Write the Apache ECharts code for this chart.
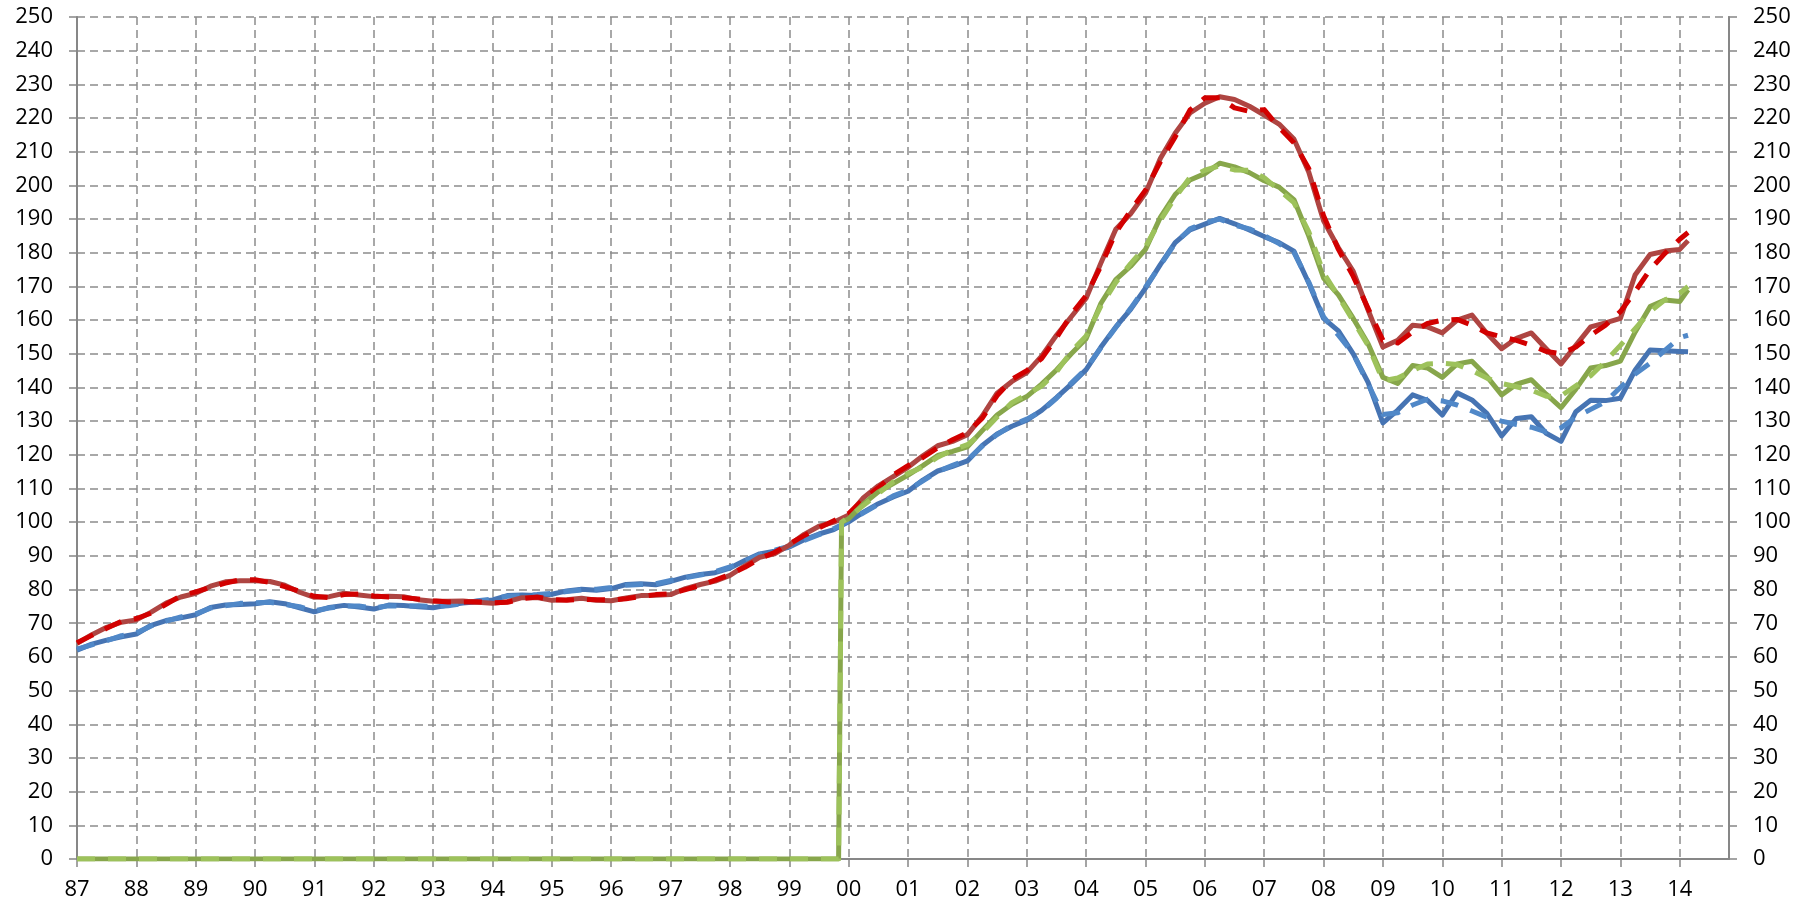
<!DOCTYPE html>
<html>
<head>
<meta charset="utf-8">
<script src="https://cdn.jsdelivr.net/npm/echarts@6/dist/echarts.min.js"></script>
<style>
html,body{margin:0;padding:0;background:#fff;}
#chart{width:1814px;height:908px;}
</style>
</head>
<body>
<div id="chart"></div>
<script>
// ---- time positions (decimal years, quarterly; last = latest monthly obs) ----
const times = [];
for (let i = 0; i <= 108; i++) times.push(1987 + i * 0.25);
times.push(2014.14);

// ---- axis ranges / tick steps ----
const yMin = 0, yMax = 250, yStep = 10;
const xMin = 1987, xMax = 2014.83;

// ---- red (solid / dashed) ----
const redSolid = [
  64.0, 66.6, 68.8, 70.3,
  71.0, 73.3, 76.0, 77.8,
  78.9, 81.0, 82.3, 82.6,
  82.6, 82.4, 81.3, 79.2,
  77.7, 77.9, 78.9, 78.4,
  77.9, 78.0, 77.9, 77.0,
  76.5, 76.5, 76.6, 76.2,
  75.9, 76.4, 77.6, 77.6,
  76.8, 77.0, 77.4, 76.8,
  76.7, 77.5, 78.2, 78.3,
  78.5, 80.3, 81.5, 82.5,
  84.2, 87.0, 89.6, 90.6,
  93.2, 96.4, 98.8, 100.0,
  102.1, 107.3, 110.8, 113.5,
  116.3, 119.7, 122.7, 124.0,
  126.0, 131.5, 138.3, 141.8,
  144.4, 149.3, 155.5, 161.0,
  166.5, 177.0, 187.0, 191.6,
  197.7, 208.0, 215.5, 221.5,
  224.4, 226.3, 225.5, 223.5,
  220.9, 218.2, 213.8, 204.0,
  189.5, 181.5, 174.5, 163.0,
  152.0, 154.0, 158.5, 158.0,
  156.2, 160.0, 161.5, 156.1,
  151.5, 154.6, 156.2, 151.5,
  147.0, 152.5, 158.0, 159.2,
  160.5, 173.5, 179.5, 180.5,
  181.0, 183.6
];
const redDashed = [
  64.2, 66.4, 68.5, 70.6,
  71.4, 73.0, 75.6, 78.2,
  79.3, 80.7, 81.9, 82.9,
  82.9, 82.1, 80.9, 79.5,
  78.0, 77.6, 78.5, 78.7,
  78.1, 77.8, 77.6, 77.2,
  76.7, 76.3, 76.3, 76.4,
  76.1, 76.2, 77.3, 77.8,
  77.0, 76.8, 77.1, 77.0,
  76.9, 77.3, 77.9, 78.5,
  78.7, 80.0, 81.2, 82.8,
  84.5, 86.6, 89.2, 91.0,
  93.6, 96.0, 98.3, 100.4,
  102.6, 106.8, 110.2, 114.0,
  116.8, 119.2, 122.1, 124.5,
  126.6, 130.9, 137.6, 142.4,
  145.0, 148.6, 154.7, 161.7,
  167.3, 176.1, 186.0, 192.5,
  198.6, 207.0, 214.4, 222.4,
  226.0, 226.0, 223.0, 222.0,
  222.5, 217.2, 212.7, 205.0,
  191.0, 181.0, 173.0, 163.5,
  154.0, 153.2, 156.5, 159.0,
  160.0, 160.2, 158.5, 156.2,
  155.0, 154.0, 152.5, 150.7,
  150.0, 152.0, 155.5, 158.5,
  162.5, 168.5, 175.0, 179.8,
  184.0, 186.0
];

// ---- green (starts 2000; zero before, then jumps to base 100) ----
const greenLeadTimes = [1987, 1999.83, 1999.88];
const greenLeadValues = [0, 0, 100];
const greenSolid = [
  101.0, 105.5, 109.0, 111.5,
  114.0, 116.8, 119.8, 121.0,
  122.4, 127.2, 131.8, 135.0,
  137.3, 141.0, 145.2, 150.0,
  154.5, 165.0, 172.0, 176.0,
  181.0, 190.5, 197.3, 201.6,
  203.5, 206.6, 205.5, 203.8,
  201.4, 199.5, 195.8, 185.0,
  172.5, 167.5, 160.5, 153.0,
  143.0, 141.2, 146.5, 145.8,
  143.0, 147.0, 147.8, 143.3,
  137.8, 141.0, 142.3, 138.0,
  134.0, 139.5, 145.8, 146.5,
  147.8, 156.5, 164.0, 166.0,
  165.5, 169.0
];
const greenDashed = [
  101.5, 105.0, 108.5, 112.0,
  114.5, 116.4, 119.3, 121.5,
  123.0, 126.6, 131.2, 135.5,
  137.9, 140.4, 144.6, 150.7,
  155.3, 164.2, 171.2, 176.8,
  181.8, 189.6, 196.4, 202.4,
  204.5, 205.8, 204.6, 204.5,
  202.3, 198.6, 194.9, 186.3,
  174.0, 167.0, 159.8, 152.5,
  142.0, 142.8, 145.0, 147.0,
  147.2, 146.8, 145.0, 142.8,
  141.2, 140.2, 139.2, 137.4,
  137.5, 140.5, 143.5, 147.8,
  152.5, 157.5, 162.5, 166.0,
  168.0, 170.0
];

// ---- blue (solid / dashed) ----
const blueSolid = [
  62.0, 63.8, 65.0, 66.0,
  66.8, 69.4, 70.8, 71.6,
  72.5, 74.7, 75.4, 75.6,
  75.8, 76.4, 75.8, 74.6,
  73.4, 74.7, 75.3, 74.8,
  74.2, 75.4, 75.3, 74.9,
  74.6, 75.4, 76.0, 76.4,
  76.9, 78.2, 78.4, 78.2,
  78.6, 79.6, 80.1, 79.8,
  80.3, 81.5, 81.7, 81.4,
  82.4, 83.7, 84.5, 85.0,
  86.4, 88.6, 90.6, 91.4,
  92.6, 94.8, 96.5, 97.8,
  100.1, 103.0, 105.5, 107.5,
  109.2, 112.5, 115.2, 116.6,
  118.2, 122.8, 126.2, 128.5,
  130.3, 133.2, 137.0, 141.0,
  145.3, 152.0, 158.0, 163.2,
  169.5, 176.5, 183.0, 186.8,
  188.5, 190.2, 188.6, 186.8,
  184.8, 183.0, 180.5, 171.0,
  160.5, 156.8, 150.0, 141.5,
  129.5, 133.3, 137.8, 136.2,
  131.8, 138.4, 136.3, 132.3,
  125.6, 130.8, 131.3, 126.4,
  124.0, 132.8, 136.2, 136.1,
  136.8, 145.2, 151.1, 150.9,
  150.7, 150.6
];
const blueDashed = [
  62.3, 63.6, 64.8, 66.3,
  67.1, 69.2, 70.6, 71.9,
  72.8, 74.5, 75.2, 75.9,
  76.1, 76.2, 75.6, 74.9,
  73.7, 74.5, 75.1, 75.1,
  74.5, 75.2, 75.1, 75.2,
  74.9, 75.2, 75.8, 76.7,
  77.2, 78.0, 78.2, 78.5,
  78.9, 79.4, 79.9, 80.1,
  80.6, 81.3, 81.5, 81.7,
  82.7, 83.5, 84.3, 85.3,
  86.7, 88.4, 90.4, 91.7,
  92.9, 94.6, 96.3, 98.1,
  100.4, 102.8, 105.3, 107.8,
  109.5, 112.3, 115.0, 116.9,
  118.5, 122.6, 126.0, 128.8,
  130.6, 133.0, 136.8, 141.3,
  145.6, 151.8, 157.8, 163.5,
  169.8, 176.3, 182.8, 187.1,
  189.0, 190.0, 188.2, 187.1,
  185.1, 182.7, 180.1, 171.3,
  161.0, 155.5, 150.0, 141.0,
  132.0, 132.5, 134.8, 136.5,
  136.0, 134.8, 133.0, 131.2,
  130.0, 129.0, 128.2, 126.8,
  128.0, 131.2, 133.5, 135.8,
  140.0, 144.0, 147.2, 151.0,
  154.8, 155.5
];

// ---- build ----
function pairs(ts, vs) { return ts.map((t, i) => [t, vs[i]]); }
const greenStartIdx = times.indexOf(2000);
const greenTimes = greenLeadTimes.concat(times.slice(greenStartIdx));

const LW = 5;
const DASH = [18, 13];
function line(name, data, color, dashed) {
  return {
    name: name, type: 'line', data: data, symbol: 'none', smooth: false,
    clip: true,
    lineStyle: { color: color, width: LW, type: dashed ? DASH : 'solid', cap: 'butt', join: 'round' },
    emphasis: { disabled: true }
  };
}

const labelFont = { fontFamily: '"Open Sans", sans-serif', fontSize: 22, color: '#000' };
const axisGray = '#878787';
const gridGray = '#8c8c8c';

function yAxisDef(pos, grid) {
  return {
    type: 'value', position: pos, min: yMin, max: yMax, interval: yStep,
    axisLine: { show: true, lineStyle: { color: axisGray, width: 2 } },
    axisTick: { show: true, inside: false, length: 8, lineStyle: { color: axisGray, width: 1.5 } },
    axisLabel: Object.assign({ margin: 24 }, labelFont),
    splitLine: { show: grid, lineStyle: { color: gridGray, width: 1.5, type: [8, 5] } }
  };
}

const chart = echarts.init(document.getElementById('chart'), null, { renderer: 'canvas' });
chart.setOption({
  animation: false,
  backgroundColor: '#ffffff',
  grid: { left: 77, right: 85, top: 17, bottom: 49, containLabel: false },
  xAxis: {
    type: 'value', min: xMin, max: xMax, interval: 1,
    axisLine: { show: true, onZero: false, lineStyle: { color: axisGray, width: 2 } },
    axisTick: { show: true, inside: false, length: 8, lineStyle: { color: axisGray, width: 1.5 } },
    axisLabel: Object.assign({
      margin: 20,
      showMaxLabel: false,
      formatter: function (v) {
        if (Math.abs(v - Math.round(v)) > 1e-6) return '';
        return String(Math.round(v)).slice(2);
      }
    }, labelFont),
    splitLine: { show: true, lineStyle: { color: gridGray, width: 1.5, type: [8, 5] } }
  },
  yAxis: [yAxisDef('left', true), yAxisDef('right', false)],
  series: [
    line('Blue', pairs(times, blueSolid), '#4674B3', false),
    line('Blue SA', pairs(times, blueDashed), '#5088C8', true),
    line('Red', pairs(times, redSolid), '#AE4542', false),
    line('Red SA', pairs(times, redDashed), '#D20000', true),
    line('Green', pairs(greenTimes, greenLeadValues.concat(greenSolid)), '#87A64B', false),
    line('Green SA', pairs(greenTimes, greenLeadValues.concat(greenDashed)), '#9DC25B', true)
  ]
});
</script>
</body>
</html>
